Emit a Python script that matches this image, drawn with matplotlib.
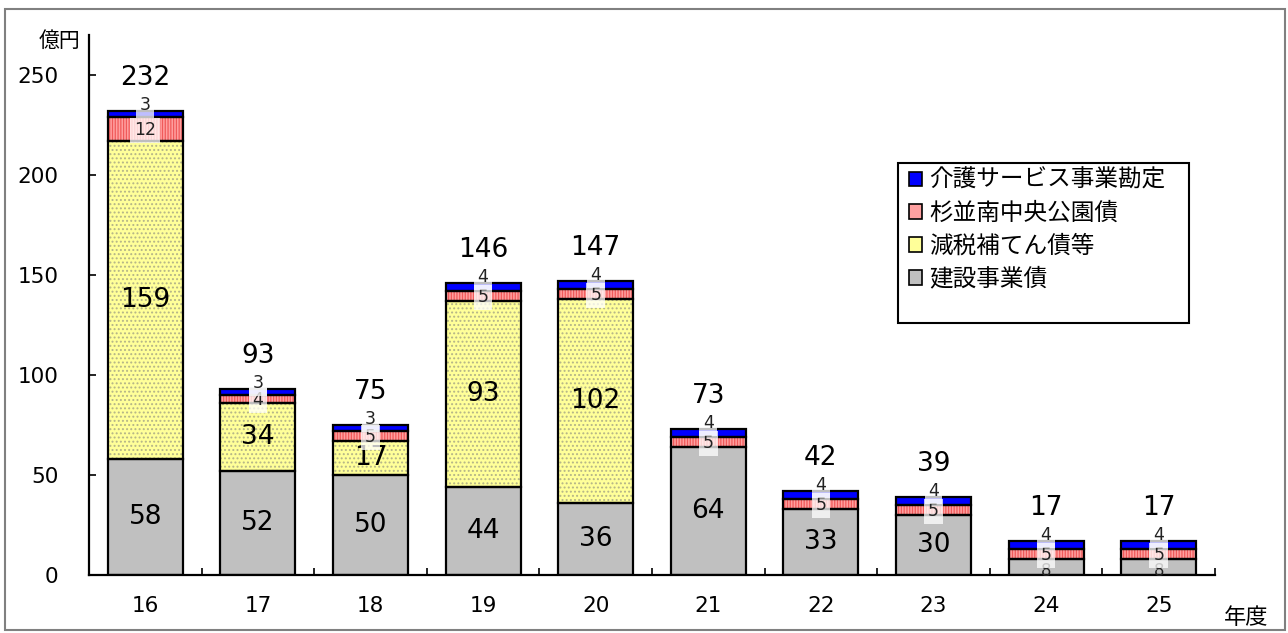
import matplotlib
matplotlib.use("Agg")
import matplotlib.pyplot as plt
from matplotlib.patches import Rectangle, Patch
import numpy as np

plt.rcParams['font.family'] = ['DejaVu Sans', 'Noto Sans CJK JP']

# ---- data ----
years = ['16', '17', '18', '19', '20', '21', '22', '23', '24', '25']
kensetsu = [58, 52, 50, 44, 36, 64, 33, 30, 8, 8]          # 建設事業債
genzei = [159, 34, 17, 93, 102, 0, 0, 0, 0, 0]             # 減税補てん債等
koen = [12, 4, 5, 5, 5, 5, 5, 5, 5, 5]                     # 杉並南中央公園債
kaigo = [3, 3, 3, 4, 4, 4, 4, 4, 4, 4]                     # 介護サービス事業勘定
totals = [232, 93, 75, 146, 147, 73, 42, 39, 17, 17]

series_names = ['建設事業債', '減税補てん債等', '杉並南中央公園債', '介護サービス事業勘定']
series_vals = [kensetsu, genzei, koen, kaigo]
face = ['#C0C0C0', '#FFFF99', '#FFA0A0', '#0000FF']
hatch_col = ['#C0C0C0', '#B4B488', '#F05A5A', '#0000FF']
hatches = [None, '....', '||||||', None]

W, H = 1288, 633
fig = plt.figure(figsize=(W / 100, H / 100), dpi=100)
ax = fig.add_axes([89 / W, 1 - 575 / H, (1215 - 89) / W, (575 - 35) / H])

plt.rcParams['hatch.linewidth'] = 0.9

x = np.arange(len(years))
bw = 0.667
bottom = np.zeros(len(years))
for i, (vals, fc, hc, ht) in enumerate(zip(series_vals, face, hatch_col, hatches)):
    v = np.array(vals, dtype=float)
    ax.bar(x, v, bw, bottom=bottom, color=fc, edgecolor=hc, hatch=ht,
           linewidth=0, zorder=2)
    mask = v > 0
    ax.bar(x[mask], v[mask], bw, bottom=bottom[mask], fill=False,
           edgecolor='black', linewidth=1.6, zorder=3)
    for j in range(len(years)):
        if v[j] <= 0:
            continue
        cy = bottom[j] + v[j] / 2
        if i in (0, 1):
            if v[j] >= 10:
                ax.text(x[j], cy, str(int(v[j])), ha='center', va='center',
                        fontsize=19, color='black', zorder=6)
            else:
                ax.annotate(str(int(v[j])), (x[j], cy), xytext=(0, -3),
                            textcoords='offset points', ha='center', va='center',
                            fontsize=12, color='#222222', zorder=6)
        elif i == 2:
            ax.annotate(str(int(v[j])), (x[j], cy), xytext=(0, -1),
                        textcoords='offset points', ha='center', va='center',
                        fontsize=12.5, color='#222222', zorder=6,
                        bbox=dict(boxstyle='square,pad=0.22', facecolor='white',
                                  edgecolor='none', alpha=0.75))
        else:
            top = bottom[j] + v[j]
            ax.annotate(str(int(v[j])), (x[j], top), xytext=(0, 4.3),
                        textcoords='offset points', ha='center', va='center',
                        fontsize=12.5, color='#222222', zorder=7,
                        bbox=dict(boxstyle='square,pad=0.2', facecolor='white',
                                  edgecolor='none', alpha=0.75))
    bottom = bottom + v

for j, t in enumerate(totals):
    ax.annotate(str(t), (x[j], t), xytext=(0, 23.5), textcoords='offset points',
                ha='center', va='center', fontsize=19, color='black', zorder=6)

ax.set_xlim(-0.5, len(years) - 0.5)
ax.set_ylim(0, 270)
for s in ['top', 'right']:
    ax.spines[s].set_visible(False)
for s in ['left', 'bottom']:
    ax.spines[s].set_linewidth(1.6)
    ax.spines[s].set_zorder(5)

ax.set_yticks(range(0, 251, 50))
ax.tick_params(axis='y', direction='in', length=5, width=1.2, pad=22, labelsize=15.5)

ax.set_xticks(np.arange(-0.5, len(years), 1.0))
ax.set_xticklabels([])
ax.set_xticks(x, minor=True)
ax.set_xticklabels(years, minor=True)
ax.tick_params(axis='x', which='major', direction='in', length=5, width=1.2)
ax.tick_params(axis='x', which='minor', length=0, pad=15, labelsize=15.5)

fig.text(60 / W, 1 - 41 / H, '億円', ha='center', va='center', fontsize=15,
         family=['Noto Sans CJK JP', 'DejaVu Sans'])
fig.text(1246 / W, 1 - 617 / H, '年度', ha='center', va='center', fontsize=16,
         family=['Noto Sans CJK JP', 'DejaVu Sans'])

# legend box
box = Rectangle((898 / W, 1 - 323 / H), 291 / W, 160 / H,
                transform=fig.transFigure, facecolor='white',
                edgecolor='black', linewidth=1.5, zorder=8, clip_on=False)
ax.add_patch(box)
handles = [Patch(facecolor=face[k], edgecolor='black', linewidth=1.2)
           for k in [3, 2, 1, 0]]
labels = [series_names[k] for k in [3, 2, 1, 0]]
leg = ax.legend(handles, labels, loc='upper left',
                bbox_to_anchor=(909 / W, 1 - 169 / H), bbox_transform=fig.transFigure,
                frameon=False, prop={'family': ['Noto Sans CJK JP', 'DejaVu Sans'], 'size': 17},
                handlelength=0.55, handleheight=0.55, handletextpad=0.3,
                labelspacing=0.42, borderaxespad=0, borderpad=0)
leg.set_zorder(9)

# figure border
fig.patches.append(Rectangle((5 / W, 3 / H), 1280 / W, 621 / H,
                             transform=fig.transFigure, fill=False,
                             edgecolor='#808080', linewidth=1.5))

fig.savefig('out.png', dpi=100)
